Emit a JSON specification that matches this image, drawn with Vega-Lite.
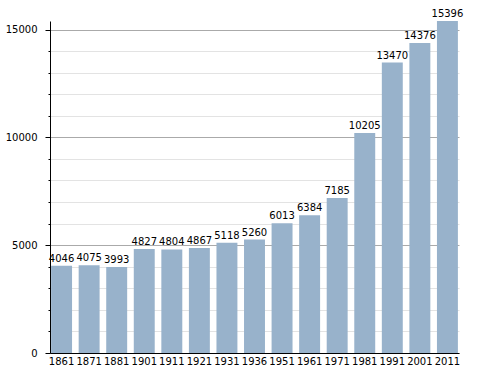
{
  "$schema": "https://vega.github.io/schema/vega-lite/v6.json",
  "width": 409,
  "height": 332,
  "autosize": {"type": "none"},
  "padding": {"left": 50, "top": 21, "right": 29, "bottom": 20},
  "config": {
    "view": {"stroke": null},
    "font": "DejaVu Sans",
    "axis": {"labelFont": "DejaVu Sans", "labelFontSize": 10, "labelColor": "#000", "domainColor": "#000", "tickColor": "#000"}
  },
  "data": {
    "values": [
      {"year": "1861", "pop": 4046},
      {"year": "1871", "pop": 4075},
      {"year": "1881", "pop": 3993},
      {"year": "1901", "pop": 4827},
      {"year": "1911", "pop": 4804},
      {"year": "1921", "pop": 4867},
      {"year": "1931", "pop": 5118},
      {"year": "1936", "pop": 5260},
      {"year": "1951", "pop": 6013},
      {"year": "1961", "pop": 6384},
      {"year": "1971", "pop": 7185},
      {"year": "1981", "pop": 10205},
      {"year": "1991", "pop": 13470},
      {"year": "2001", "pop": 14376},
      {"year": "2011", "pop": 15396}
    ]
  },
  "encoding": {
    "x": {
      "field": "year", "type": "nominal", "sort": null,
      "scale": {"paddingInner": 0.24, "paddingOuter": 0.04},
      "axis": {"title": null, "labelAngle": 0, "ticks": false, "labelPadding": 3, "domainWidth": 1}
    },
    "y": {
      "field": "pop", "type": "quantitative",
      "scale": {"domain": [0, 15396], "nice": false},
      "axis": {
        "title": null,
        "values": [0,1000,2000,3000,4000,5000,6000,7000,8000,9000,10000,11000,12000,13000,14000,15000],
        "format": "d",
        "labelExpr": "datum.value % 5000 === 0 ? datum.label : ''",
        "grid": true,
        "gridColor": {"condition": {"test": "datum.value % 5000 === 0", "value": "#aaaaaa"}, "value": "#e3e3e3"},
        "tickSize": {"condition": {"test": "datum.value % 5000 === 0", "value": 5}, "value": 2},
        "labelPadding": 8,
        "domainWidth": 1
      }
    }
  },
  "layer": [
    {"mark": {"type": "bar", "color": "#98b2cb"}},
    {"mark": {"type": "text", "baseline": "bottom", "dy": -2, "fontSize": 10, "color": "#000", "font": "DejaVu Sans"},
     "encoding": {"text": {"field": "pop", "type": "quantitative", "format": "d"}}}
  ]
}
